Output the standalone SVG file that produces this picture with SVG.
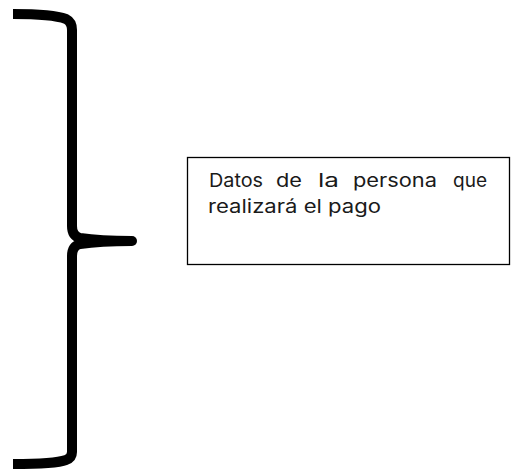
<svg xmlns="http://www.w3.org/2000/svg" width="511" height="471" viewBox="0 0 511 471">
<style>
.brace{fill:none;stroke:#000;stroke-width:10;stroke-linejoin:round}
.box{fill:#fff;stroke:#000;stroke-width:1.3}
.t{font-family:Inter,"Open Sans","Liberation Sans",sans-serif;font-size:18.5px;fill:#1a1a1a}
</style>
<rect width="511" height="471" fill="#fff"/>
<g id="brace">
<path class="brace" d="M13,14 C40,14 58,16 66,19 Q72,22 72,30 L72,226 Q72,236 80,238 Q100,241 132,241" stroke-linecap="butt"/>
<path class="brace" d="M132,241 Q100,241 80,244 Q72,246 72,256 L72,452 Q72,458 66,460 C58,463 40,464 13,464" stroke-linecap="butt"/>
<circle cx="132" cy="241" r="5" fill="#000"/>
</g>
<g id="box">
<rect class="box" x="187.5" y="157.5" width="322" height="107"/>
<text class="t" x="209" y="187" textLength="54" lengthAdjust="spacingAndGlyphs">Datos</text>
<text class="t" x="276" y="187" textLength="26" lengthAdjust="spacingAndGlyphs">de</text>
<text class="t" x="318" y="187" textLength="21" lengthAdjust="spacingAndGlyphs">la</text>
<text class="t" x="353" y="187" textLength="84" lengthAdjust="spacingAndGlyphs">persona</text>
<text class="t" x="453" y="187" textLength="34" lengthAdjust="spacingAndGlyphs">que</text>
<text class="t" x="208" y="213" textLength="173" lengthAdjust="spacingAndGlyphs">realizará el pago</text>
</g>
</svg>
